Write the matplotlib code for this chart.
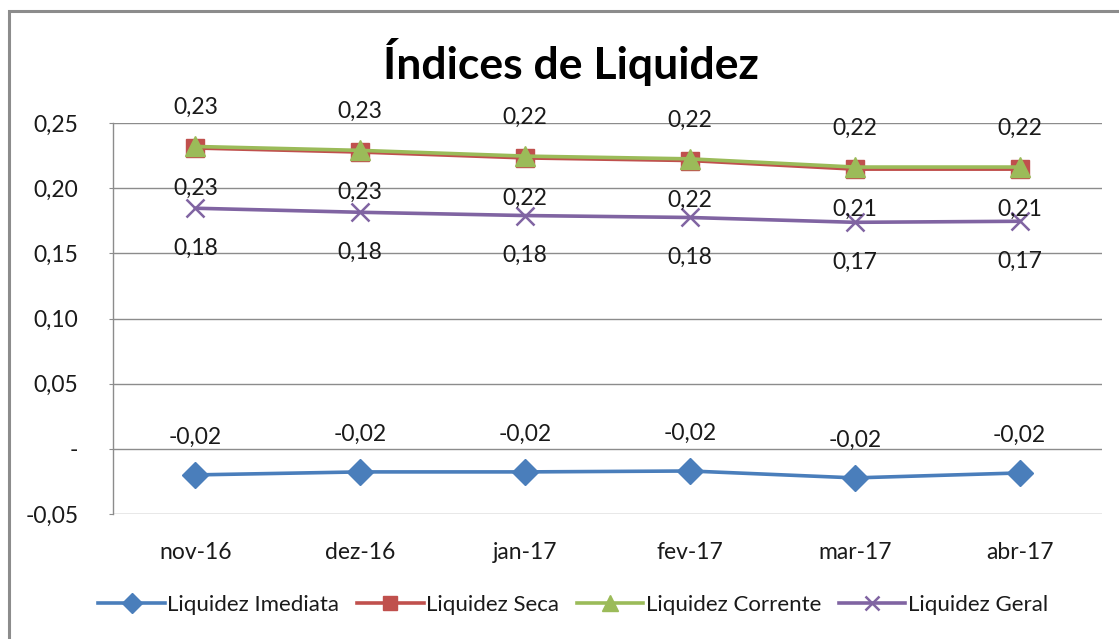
import matplotlib
matplotlib.use("Agg")
import matplotlib.pyplot as plt
from matplotlib.ticker import FuncFormatter
from matplotlib.patches import Rectangle

categories = ["nov-16", "dez-16", "jan-17", "fev-17", "mar-17", "abr-17"]
imediata = [-0.0200, -0.0177, -0.0177, -0.0170, -0.0223, -0.0185]
seca = [0.2308, 0.2277, 0.2232, 0.2212, 0.2146, 0.2146]
corrente = [0.2320, 0.2290, 0.2246, 0.2225, 0.2162, 0.2162]
geral = [0.1846, 0.1815, 0.1790, 0.1775, 0.1738, 0.1746]
series_names = ["Liquidez Imediata", "Liquidez Seca", "Liquidez Corrente", "Liquidez Geral"]
yticks = [-0.05, 0.0, 0.05, 0.10, 0.15, 0.20, 0.25]

plt.rcParams['font.family'] = ['Lato', 'DejaVu Sans']

W, H = 1119, 639
fig = plt.figure(figsize=(W / 100, H / 100), dpi=100)
ax = fig.add_axes([113 / W, 1 - 514 / H, (1102 - 113) / W, (514 - 123) / H])

# outer border
fig.patches.append(Rectangle((9 / W, -0.02), 1.05, 1 - 11 / H + 0.02, transform=fig.transFigure,
                             fill=False, edgecolor='#8c8c8c', linewidth=2.2, zorder=0))

x = list(range(len(categories)))
colors = ['#4A7EBB', '#C0504D', '#9BBB59', '#8064A2']
styles = [
    dict(marker='D', markersize=13),
    dict(marker='s', markersize=13),
    dict(marker='^', markersize=15),
    dict(marker='x', markersize=13, markeredgewidth=1.8),
]
data = [imediata, seca, corrente, geral]
lines = []
for vals, name, c, st in zip(data, series_names, colors, styles):
    ln, = ax.plot(x, vals, color=c, linewidth=2.6, label=name, zorder=3, **st)
    lines.append(ln)

def fmt(v):
    return f"{v:.2f}".replace('.', ',')

label_offsets = [27, -29, 28, -29]  # points; + above, - below
for vals, off in zip(data, label_offsets):
    for xi, v in zip(x, vals):
        ax.annotate(fmt(v), (xi, v), xytext=(0, off), textcoords='offset points',
                    ha='center', va='center', fontsize=16.5, color='#1a1a1a', zorder=4)

ax.set_xlim(-0.5, len(categories) - 0.5)
ax.set_ylim(-0.05, 0.25)
ax.set_yticks(yticks)
ax.yaxis.set_major_formatter(FuncFormatter(lambda v, p: '-' if abs(v) < 1e-9 else fmt(v)))
ax.set_xticks(x)
ax.set_xticklabels(categories)
ax.grid(axis='y', color='#8c8c8c', linewidth=1.0, zorder=1)
ax.set_axisbelow(True)
for s in ['top', 'right', 'bottom']:
    ax.spines[s].set_visible(False)
ax.spines['left'].set_color('#8c8c8c')
ax.spines['left'].set_linewidth(1.0)
ax.tick_params(axis='y', length=3, color='#8c8c8c', labelsize=16.5, pad=22, labelcolor='#1a1a1a')
ax.tick_params(axis='x', length=0, labelsize=16.5, pad=20, labelcolor='#1a1a1a')

fig.text(571 / W, 1 - 62 / H, "Índices de Liquidez", ha='center', va='center',
         fontsize=32, fontweight='bold', color='black')

fig.legend(handles=lines, loc='center', bbox_to_anchor=(573 / W, 1 - 605 / H), ncol=4,
           frameon=False, fontsize=16, handlelength=3.0, handletextpad=0.1,
           columnspacing=0.8, markerscale=0.75, labelcolor='#1a1a1a')

fig.savefig("out.png", dpi=100)
